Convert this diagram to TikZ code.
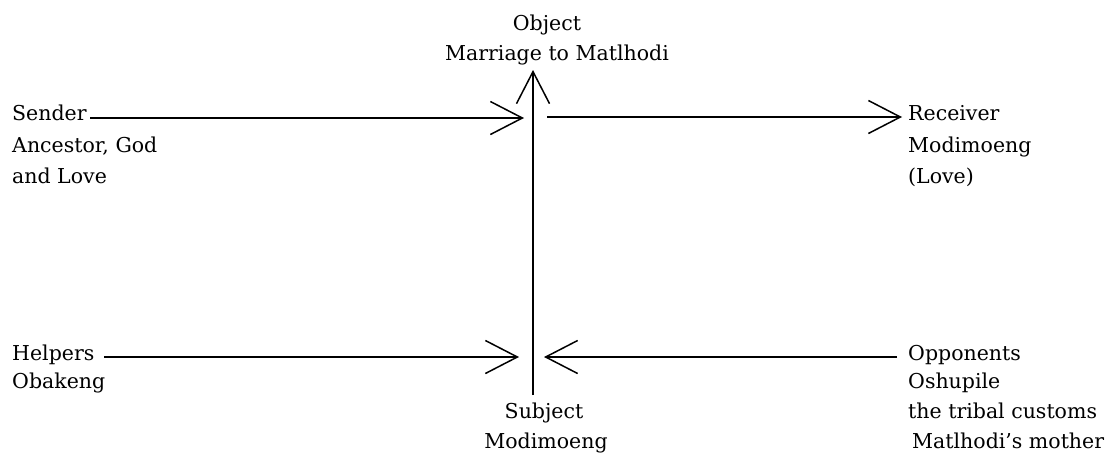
\documentclass[tikz,border=0pt]{standalone}
\usepackage{fontspec}
\setmainfont{DejaVu Serif}
\usetikzlibrary{arrows.meta}
\begin{document}
\begin{tikzpicture}[x=1pt,y=-1pt,
  lbl/.style={font=\fontsize{20.5}{26}\selectfont, inner sep=0pt, anchor=base west},
  lblc/.style={font=\fontsize{20.5}{26}\selectfont, inner sep=0pt, anchor=base},
  conn/.style={line width=1.5pt, -{Straight Barb[length=32pt,width=33pt,line width=1.5pt]}}]
\useasboundingbox (0,0) rectangle (1110,456);
% labels
\node[lblc] (object) at (547,30) {Object};
\node[lblc] (objectname) at (557,60) {Marriage to Matlhodi};
\node[lbl] (sender) at (12,120) {Sender};
\node[lbl] (sender2) at (12,152) {Ancestor, God};
\node[lbl] (sender3) at (12,183) {and Love};
\node[lbl] (receiver) at (908,120) {Receiver};
\node[lbl] (receiver2) at (908,152) {Modimoeng};
\node[lbl] (receiver3) at (908,183) {(Love)};
\node[lbl] (helpers) at (12,360) {Helpers};
\node[lbl] (helpers2) at (12,388) {Obakeng};
\node[lbl] (opponents) at (908,360) {Opponents};
\node[lbl] (opponents2) at (908,388) {Oshupile};
\node[lbl] (opponents3) at (908,418) {the tribal customs};
\node[lbl] (opponents4) at (912,448) {Matlhodi's mother};
\node[lblc] (subject) at (544,418) {Subject};
\node[lblc] (subject2) at (546,448) {Modimoeng};
% connector end points
\coordinate (sendS) at (90,118);
\coordinate (sendT) at (524,118);
\coordinate (recS) at (547,117);
\coordinate (recT) at (902,117);
\coordinate (helpS) at (104,357);
\coordinate (helpT) at (519,357);
\coordinate (oppS) at (897,357);
\coordinate (oppT) at (544,357);
\coordinate (subjS) at (533,395);
\coordinate (objT) at (533,70);
% connectors
\draw[conn] (sendS) -- (sendT);
\draw[conn] (recS) -- (recT);
\draw[conn] (helpS) -- (helpT);
\draw[conn] (oppS) -- (oppT);
\draw[conn] (subjS) -- (objT);
\end{tikzpicture}
\end{document}
